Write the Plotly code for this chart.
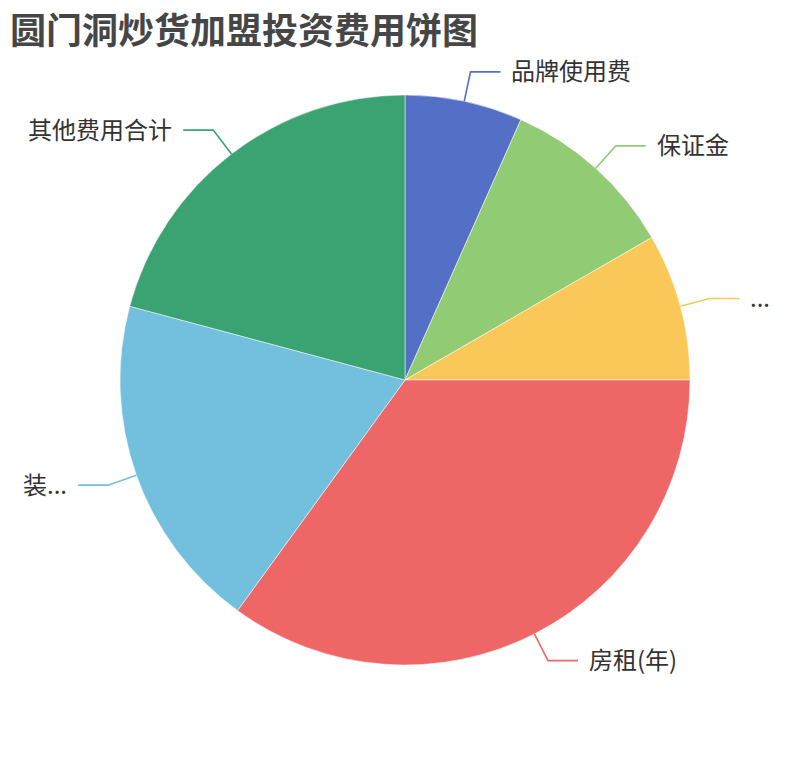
import numpy as np
import plotly.graph_objects as go

W, H = 810, 760

# 加盟费用（万元）
labels = ['品牌使用费', '保证金', '...', '房租(年)', '装...', '其他费用合计']
values = [0.8, 1.2, 1.0, 4.2, 2.3, 2.5]
colors = ['#5470c6', '#91cc75', '#fac858', '#ee6666', '#73c0de', '#3ba272']

# pie geometry in pixels
cx, cy, r = 405, 380, 285
len1, len2 = 30, 30

fig = go.Figure()
fig.add_trace(go.Pie(
    labels=labels, values=values, sort=False, direction='clockwise', rotation=0,
    marker=dict(colors=colors, line=dict(color='white', width=0.5)),
    textinfo='none', hoverinfo='label+value+percent', showlegend=False,
    domain=dict(x=[(cx - r) / W, (cx + r) / W], y=[1 - (cy + r) / H, 1 - (cy - r) / H]),
))

# label lines and texts, placed from the slice mid angles
def px(x, y):
    return x / W, 1 - y / H

total = sum(values)
cum = np.cumsum([0] + values[:-1])
shapes, annotations = [], []
for lab, v, c0, col in zip(labels, values, cum, colors):
    ang = np.deg2rad((c0 + v / 2) / total * 360)
    s, c = np.sin(ang), np.cos(ang)
    x1, y1 = cx + r * s, cy - r * c
    x2, y2 = cx + (r + len1) * s, cy - (r + len1) * c
    side = 1 if s >= 0 else -1
    x3, y3 = x2 + side * len2, y2
    pts = [px(x1, y1), px(x2, y2), px(x3, y3)]
    path = 'M {} {} L {} {} L {} {}'.format(*[p for xy in pts for p in xy])
    shapes.append(dict(type='path', xref='paper', yref='paper', path=path,
                       line=dict(color=col, width=1.6)))
    tx, ty = px(x3 + side * 9, y3 - 2)
    annotations.append(dict(text=lab, x=tx, y=ty, xref='paper', yref='paper',
                            xanchor='left' if side > 0 else 'right', yanchor='middle',
                            showarrow=False, font=dict(size=24, color='#333')))

# title
annotations.append(dict(text='<b>圆门洞炒货加盟投资费用饼图</b>', x=8 / W, y=1,
                        xref='paper', yref='paper', xanchor='left', yanchor='top',
                        showarrow=False, font=dict(size=36, color='#464646')))

fig.update_layout(
    width=W, height=H,
    margin=dict(l=0, r=0, t=0, b=0),
    paper_bgcolor='white',
    font=dict(family='Noto Sans CJK SC, Microsoft YaHei, sans-serif'),
    shapes=shapes,
    annotations=annotations,
)

fig.write_html('out.html', config={'displayModeBar': False},
               post_script="document.body.style.margin='0';")
